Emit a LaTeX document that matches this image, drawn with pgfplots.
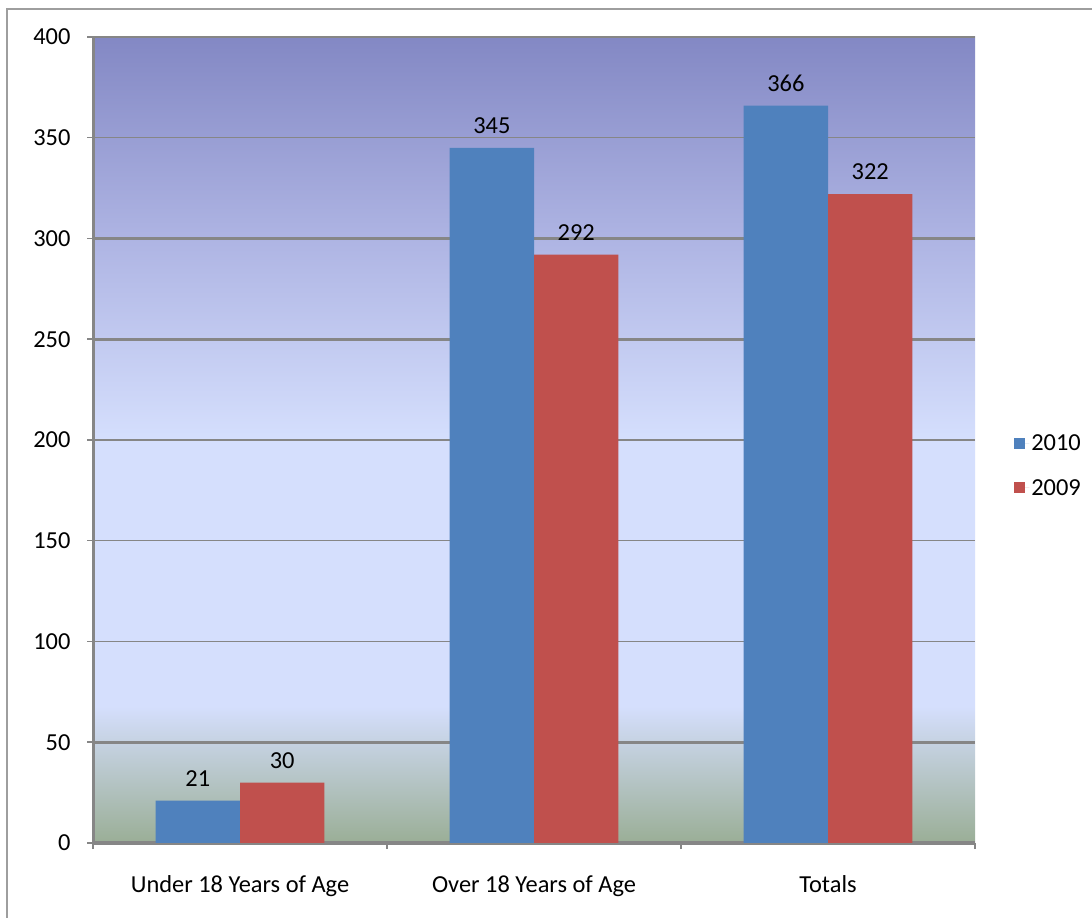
\documentclass[border=0pt]{standalone}
\usepackage{pgfplots}
\pgfplotsset{compat=1.18}
\usepackage{fontspec}
\setmainfont{Carlito}
\definecolor{blu}{HTML}{4F81BD}
\definecolor{rd}{HTML}{C0504D}
\definecolor{bgtop}{RGB}{131,136,196}
\definecolor{bgmid}{RGB}{174,180,227}
\definecolor{bglt}{RGB}{213,223,253}
\definecolor{bggrn}{RGB}{154,174,150}
\definecolor{axgray}{RGB}{134,134,134}
\pgfdeclareverticalshading{bgshade}{100bp}{color(0bp)=(bggrn); color(25bp)=(bggrn); color(33.5bp)=(bglt); color(50bp)=(bglt); color(62.5bp)=(bgmid); color(75bp)=(bgtop); color(100bp)=(bgtop)}
\begin{document}
\begin{tikzpicture}
\path[use as bounding box] (0bp,0bp) rectangle (1092bp,918bp);
\fill[white] (0bp,0bp) rectangle (1092bp,918bp);
\draw[axgray!80, line width=1.5bp] (7bp,-5bp) -- (7bp,909bp) -- (1100bp,909bp);
\begin{axis}[
  at={(93bp,75bp)}, anchor=south west,
  scale only axis, width=882bp, height=806bp,
  axis background/.style={shading=bgshade},
  ymin=0, ymax=400, xmin=-0.5, xmax=2.5,
  ytick={0,50,...,400},
  extra y ticks={50,250,300}, extra y tick labels={},
  extra y tick style={grid style={axgray, line width=3bp}},
  xtick={-0.5,0.5,1.5,2.5}, xticklabels={},
  extra x ticks={0,1,2},
  extra x tick labels={Under 18 Years of Age, Over 18 Years of Age, Totals},
  extra x tick style={tick style={draw=none}, xticklabel style={yshift=-23bp}},
  axis x line*=bottom, axis y line*=left,
  axis line style={axgray, line width=3bp, -},
  tick align=outside, major tick length=6bp,
  tick style={axgray, line width=1.5bp},
  ymajorgrids, grid style={axgray, line width=1.2bp},
  font=\fontsize{24.5}{28}\selectfont,
  yticklabel style={xshift=-13bp},
  /pgf/number format/assume math mode=true,
  ybar, bar width=0.287,
  nodes near coords,
  every node near coord/.append style={font=\fontsize{24.5}{28}\selectfont, inner sep=0pt, yshift=14bp},
  legend style={at={(1.041,0.468)}, anchor=west, draw=none, fill=none, row sep=23bp,
    font=\fontsize{24.5}{28}\selectfont},
  legend cell align=left,
  legend image code/.code={\fill[#1,draw=none] (0bp,-5.5bp) rectangle (11bp,5.5bp);\path (0bp,0bp) -- (15bp,0bp);},
]
\addplot[fill=blu, draw=none, bar shift=-0.1435] coordinates {(0,21) (1,345) (2,366)};
\addplot[fill=rd, draw=none, bar shift=0.1435] coordinates {(0,30) (1,292) (2,322)};
\legend{2010,2009}
\end{axis}
\end{tikzpicture}
\end{document}
